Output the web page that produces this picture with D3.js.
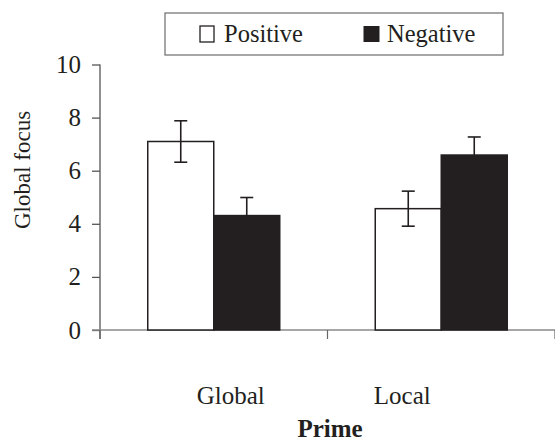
<!DOCTYPE html>
<html>
<head>
<meta charset="utf-8">
<script src="https://cdn.jsdelivr.net/npm/d3@7"></script>
<style>
  body { margin: 0; background: #fff; }
  text { font-family: "Liberation Serif", "Tinos", "Times New Roman", "DejaVu Serif", serif; fill: #231f20; }
</style>
</head>
<body>
<div id="chart"></div>
<script>
// data
var primes = ["Global", "Local"];
var series = ["Positive", "Negative"];
var positiveMeans = [7.1, 4.57];
var negativeMeans = [4.31, 6.59];
var positiveErr = [0.78, 0.66];
var negativeErr = [0.68, 0.68];
var yTicks = [0, 2, 4, 6, 8, 10];

var svgWidth = 555;
var svgHeight = 443;
var ink = "#231f20";
var serif = '"Liberation Serif", "Tinos", "Times New Roman", "DejaVu Serif", serif';

var svg = d3.select("#chart").append("svg")
  .attr("width", svgWidth)
  .attr("height", svgHeight);

// scales
var yScale = d3.scaleLinear().domain([0, 10]).range([330, 64.5]);
var xScale = d3.scaleBand().domain(primes).range([100, 555]);
var xInner = d3.scaleBand().domain(series).range([0, xScale.bandwidth()]).paddingOuter(0.7235);
var colors = d3.scaleOrdinal().domain(series).range(["#ffffff", ink]);

var rows = [];
primes.forEach(function(p, i) {
  rows.push({prime: p, series: "Positive", value: positiveMeans[i], err: positiveErr[i]});
  rows.push({prime: p, series: "Negative", value: negativeMeans[i], err: negativeErr[i]});
});

// y axis
var yAxis = d3.axisLeft(yScale).tickValues(yTicks).tickSize(8).tickPadding(11);
var yG = svg.append("g").attr("transform", "translate(100,0)").call(yAxis)
  .attr("font-family", serif);
yG.select(".domain").remove();
yG.selectAll(".tick line").attr("stroke", "#555").attr("stroke-width", 1.3);
yG.selectAll(".tick text")
  .attr("font-size", 25)
  .attr("fill", ink);
yG.append("line")
  .attr("x1", 0).attr("x2", 0)
  .attr("y1", yScale(10)).attr("y2", yScale(0) + 9)
  .attr("stroke", "#555").attr("stroke-width", 1.3);

// x axis line and boundary ticks
svg.append("line")
  .attr("x1", 92).attr("x2", 555)
  .attr("y1", yScale(0)).attr("y2", yScale(0))
  .attr("stroke", "#8a8a8a").attr("stroke-width", 1.5);
var bounds = primes.map(function(p) { return xScale(p); }).concat([xScale.range()[1]]);
svg.selectAll(".xtick").data(bounds).enter().append("line")
  .attr("class", "xtick")
  .attr("x1", function(d) { return d; }).attr("x2", function(d) { return d; })
  .attr("y1", yScale(0)).attr("y2", yScale(0) + 9)
  .attr("stroke", "#666").attr("stroke-width", 1.2);

// bars
var bars = svg.append("g");
bars.selectAll("rect").data(rows).enter().append("rect")
  .attr("x", function(d) { return xScale(d.prime) + xInner(d.series); })
  .attr("y", function(d) { return yScale(d.value); })
  .attr("width", xInner.bandwidth())
  .attr("height", function(d) { return yScale(0) - yScale(d.value); })
  .attr("fill", function(d) { return colors(d.series); })
  .attr("stroke", ink)
  .attr("stroke-width", 1.5);

// error bars
var eb = svg.append("g").attr("stroke", ink).attr("stroke-width", 1.6);
rows.forEach(function(d) {
  var cx = xScale(d.prime) + xInner(d.series) + xInner.bandwidth() / 2;
  var lo = d.series == "Negative" ? d.value : d.value - d.err;
  var hi = d.value + d.err;
  eb.append("line").attr("x1", cx).attr("x2", cx).attr("y1", yScale(hi)).attr("y2", yScale(lo));
  eb.append("line").attr("x1", cx - 6.5).attr("x2", cx + 6.5).attr("y1", yScale(hi)).attr("y2", yScale(hi));
  if (d.series == "Positive") {
    eb.append("line").attr("x1", cx - 6.5).attr("x2", cx + 6.5).attr("y1", yScale(lo)).attr("y2", yScale(lo));
  }
});

// category labels (sit a bit off the band centres in the original)
var labelShift = [17, -39];
svg.selectAll(".xlab").data(primes).enter().append("text")
  .attr("class", "xlab")
  .attr("x", function(d, i) { return xScale(d) + xScale.bandwidth() / 2 + labelShift[i]; })
  .attr("y", 404)
  .attr("text-anchor", "middle")
  .attr("font-size", 25)
  .text(function(d) { return d; });

svg.append("text")
  .attr("x", 330).attr("y", 437)
  .attr("text-anchor", "middle")
  .attr("font-size", 25)
  .attr("font-weight", "bold")
  .text("Prime");

svg.append("text")
  .attr("transform", "translate(30,170) rotate(-90)")
  .attr("text-anchor", "middle")
  .attr("font-size", 23)
  .text("Global focus");

// legend
var legend = svg.append("g");
legend.append("rect")
  .attr("x", 165).attr("y", 13).attr("width", 338).attr("height", 42)
  .attr("fill", "#fff").attr("stroke", "#777").attr("stroke-width", 1.3);
var legX = [199.5, 363.5];
var leg = legend.selectAll(".leg").data(series).enter().append("g")
  .attr("transform", function(d, i) { return "translate(" + legX[i] + ",0)"; });
leg.append("rect")
  .attr("x", function(d, i) { return i == 0 ? 0.5 : 0; })
  .attr("y", 26).attr("width", function(d, i) { return i == 0 ? 14 : 16; }).attr("height", 16)
  .attr("fill", function(d) { return colors(d); })
  .attr("stroke", ink).attr("stroke-width", function(d, i) { return i == 0 ? 1.3 : 0; });
leg.append("text")
  .attr("x", function(d, i) { return i == 0 ? 24.5 : 23.5; })
  .attr("y", 42)
  .attr("font-size", 24.5)
  .text(function(d) { return d; });
</script>
</body>
</html>
